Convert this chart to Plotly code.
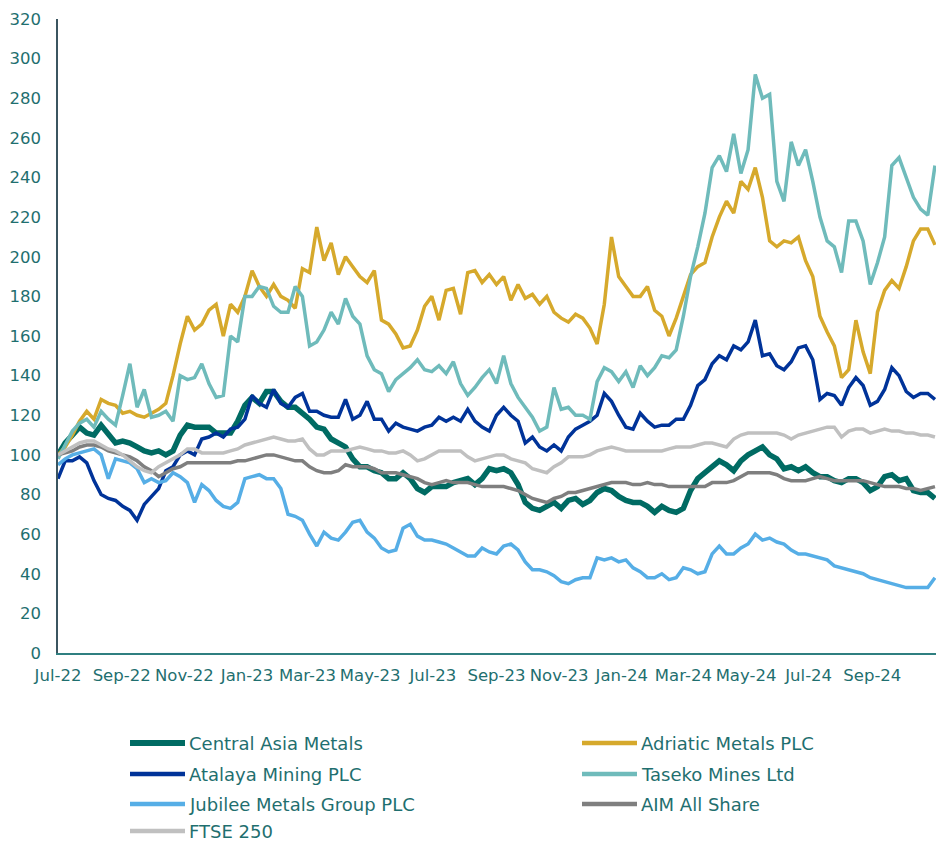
import datetime as dt
import plotly.graph_objects as go

# ---------------- data (weekly, rebased to 100 at Jul-22) ----------------
start = dt.date(2022, 7, 1)
n_weeks = 123
dates = [start + dt.timedelta(days=7 * k) for k in range(n_weeks)]

central_asia = [100, 106, 110, 114, 111, 110, 115, 110, 106, 107, 106, 104, 102, 101, 102, 100, 102, 110, 115, 114,
                114, 114, 111, 111, 111, 117, 125, 129, 126, 132, 132, 127, 124, 124, 121, 118, 114, 113, 108, 106,
                104, 98, 94, 94, 92, 91, 88, 88, 91, 88, 83, 81, 84, 84, 84, 86, 87, 88, 85, 88,
                93, 92, 93, 91, 85, 76, 73, 72, 74, 76, 73, 77, 78, 75, 77, 81, 83, 82, 79, 77,
                76, 76, 74, 71, 74, 72, 71, 73, 82, 88, 91, 94, 97, 95, 92, 97, 100, 102, 104, 100,
                98, 93, 94, 92, 94, 91, 89, 89, 87, 86, 88, 88, 86, 82, 84, 89, 90, 87, 88, 82,
                81, 81, 78]

adriatic = [100, 104, 110, 117, 122, 118, 128, 126, 125, 121, 122, 120, 119, 121, 123, 126, 140, 156, 170, 163,
            166, 173, 176, 160, 176, 172, 180, 193, 185, 180, 186, 180, 178, 174, 194, 192, 215, 198, 207, 191,
            200, 195, 190, 187, 193, 168, 166, 161, 154, 155, 163, 175, 180, 168, 183, 184, 171, 192, 193, 187,
            191, 186, 190, 178, 186, 179, 181, 176, 180, 172, 169, 167, 171, 169, 164, 156, 176, 210, 190, 185,
            180, 180, 185, 173, 170, 160, 169, 180, 191, 195, 197, 210, 220, 228, 222, 238, 234, 245, 230, 208,
            205, 208, 207, 210, 198, 190, 170, 162, 155, 139, 143, 168, 152, 141, 172, 183, 188, 184, 195, 208,
            214, 214, 206]

atalaya = [88, 97, 97, 99, 96, 87, 80, 78, 77, 74, 72, 67, 75, 79, 83, 92, 94, 100, 102, 100,
           108, 109, 111, 109, 113, 114, 118, 130, 126, 124, 133, 126, 124, 129, 131, 122, 122, 120, 119, 119,
           128, 118, 120, 127, 118, 118, 112, 116, 114, 113, 112, 114, 115, 119, 117, 119, 117, 123, 117, 114,
           112, 120, 124, 120, 117, 106, 109, 104, 102, 105, 102, 109, 113, 115, 117, 120, 131, 127, 120, 114,
           113, 121, 117, 114, 115, 115, 118, 118, 125, 135, 138, 146, 150, 148, 155, 153, 157, 168, 150, 151,
           145, 143, 147, 154, 155, 148, 128, 131, 130, 125, 134, 139, 135, 125, 127, 133, 144, 140, 132, 129,
           131, 131, 128]

taseko = [98, 105, 112, 116, 118, 114, 122, 118, 115, 130, 146, 124, 133, 119, 120, 122, 117, 140, 138, 139,
          146, 136, 129, 130, 160, 157, 180, 180, 185, 184, 175, 172, 172, 185, 180, 155, 157, 163, 172, 166,
          179, 170, 166, 150, 143, 141, 132, 138, 141, 144, 148, 143, 142, 145, 141, 147, 136, 130, 134, 139,
          143, 136, 150, 136, 129, 124, 119, 112, 114, 134, 123, 124, 120, 120, 118, 137, 144, 142, 137, 142,
          134, 145, 140, 144, 150, 149, 153, 170, 190, 205, 222, 245, 251, 243, 262, 242, 254, 292, 280, 282,
          238, 228, 258, 246, 254, 238, 220, 208, 205, 192, 218, 218, 208, 186, 197, 210, 246, 250, 240, 230,
          224, 221, 246]

jubilee = [95, 98, 100, 101, 102, 103, 100, 88, 98, 97, 96, 93, 86, 88, 86, 87, 91, 89, 86, 76,
           85, 82, 77, 74, 73, 76, 88, 89, 90, 88, 88, 83, 70, 69, 67, 60, 54, 61, 58, 57,
           61, 66, 67, 61, 58, 53, 51, 52, 63, 65, 59, 57, 57, 56, 55, 53, 51, 49, 49, 53,
           51, 50, 54, 55, 52, 46, 42, 42, 41, 39, 36, 35, 37, 38, 38, 48, 47, 48, 46, 47,
           43, 41, 38, 38, 40, 37, 38, 43, 42, 40, 41, 50, 54, 50, 50, 53, 55, 60, 57, 58,
           56, 55, 52, 50, 50, 49, 48, 47, 44, 43, 42, 41, 40, 38, 37, 36, 35, 34, 33, 33,
           33, 33, 38]

aim_all_share = [100, 101, 102, 104, 105, 105, 104, 102, 101, 100, 99, 97, 94, 92, 89, 91, 93, 94, 96, 96,
                 96, 96, 96, 96, 96, 97, 97, 98, 99, 100, 100, 99, 98, 97, 97, 94, 92, 91, 91, 92,
                 95, 94, 94, 94, 93, 91, 91, 91, 90, 89, 88, 86, 85, 86, 87, 86, 86, 86, 85, 84,
                 84, 84, 84, 83, 82, 80, 78, 77, 76, 78, 79, 81, 81, 82, 83, 84, 85, 86, 86, 86,
                 85, 85, 86, 85, 85, 84, 84, 84, 84, 84, 84, 86, 86, 86, 87, 89, 91, 91, 91, 91,
                 90, 88, 87, 87, 87, 88, 89, 88, 87, 87, 87, 87, 87, 86, 85, 84, 84, 84, 83, 83,
                 82, 83, 84]

ftse_250 = [100, 102, 104, 106, 107, 107, 105, 103, 102, 100, 97, 94, 92, 91, 94, 96, 98, 100, 103, 103,
            101, 101, 101, 101, 102, 103, 105, 106, 107, 108, 109, 108, 107, 107, 108, 103, 100, 100, 102, 102,
            102, 103, 104, 103, 102, 102, 101, 101, 102, 100, 97, 98, 100, 102, 102, 102, 102, 99, 97, 98,
            99, 100, 100, 98, 97, 96, 93, 92, 91, 94, 96, 99, 99, 99, 100, 102, 103, 104, 103, 102,
            102, 102, 102, 102, 102, 103, 104, 104, 104, 105, 106, 106, 105, 104, 108, 110, 111, 111, 111, 111,
            111, 110, 108, 110, 111, 112, 113, 114, 114, 109, 112, 113, 113, 111, 112, 113, 112, 112, 111, 111,
            110, 110, 109]

series_names = ["Central Asia Metals", "Adriatic Metals PLC", "Atalaya Mining PLC", "Taseko Mines Ltd",
                "Jubilee Metals Group PLC", "AIM All Share", "FTSE 250"]
series_values = [central_asia, adriatic, atalaya, taseko, jubilee, aim_all_share, ftse_250]
series_colors = ["#006B63", "#D6A92C", "#003399", "#6FBBBB", "#56AEE6", "#7F7F7F", "#C0C0C0"]
series_widths = [5.5, 3.5, 3.5, 3.5, 3.5, 3.5, 3.5]

tick_dates = [dt.date(2022, 7, 1), dt.date(2022, 9, 1), dt.date(2022, 11, 1), dt.date(2023, 1, 1),
              dt.date(2023, 3, 1), dt.date(2023, 5, 1), dt.date(2023, 7, 1), dt.date(2023, 9, 1),
              dt.date(2023, 11, 1), dt.date(2024, 1, 1), dt.date(2024, 3, 1), dt.date(2024, 5, 1),
              dt.date(2024, 7, 1), dt.date(2024, 9, 1)]
tick_labels = ["Jul-22", "Sep-22", "Nov-22", "Jan-23", "Mar-23", "May-23", "Jul-23", "Sep-23",
               "Nov-23", "Jan-24", "Mar-24", "May-24", "Jul-24", "Sep-24"]

# ---------------- figure ----------------
TEXT = "#1F6F6F"
FONT = "DejaVu Sans, Verdana, sans-serif"

fig = go.Figure()
for name, vals, col, w in zip(series_names, series_values, series_colors, series_widths):
    fig.add_trace(go.Scatter(x=dates, y=vals, name=name, mode="lines",
                             line=dict(color=col, width=w), showlegend=False))

W, H = 936, 844
ml, mr, mt, mb = 58, 0, 19, 191
pw, ph = W - ml - mr, H - mt - mb


def px(x):
    return (x - ml) / pw


def py(y):
    return (H - mb - y) / ph


# manual two-column legend (row-wise order, like the original)
col_x = [130, 582]
row_y = [743, 774, 804, 831]
shapes = []
annotations = []
for i, (name, col, w) in enumerate(zip(series_names, series_colors, series_widths)):
    r, c = divmod(i, 2)
    x0 = col_x[c]
    y0 = row_y[r]
    shapes.append(dict(type="line", xref="paper", yref="paper",
                       x0=px(x0), x1=px(x0 + 55), y0=py(y0), y1=py(y0),
                       line=dict(color=col, width=6 if i == 0 else 4.5)))
    annotations.append(dict(xref="paper", yref="paper", x=px(x0 + 57), y=py(y0),
                            xanchor="left", yanchor="middle", text=name, showarrow=False,
                            font=dict(family=FONT, size=18, color=TEXT)))

fig.update_layout(
    width=W, height=H,
    margin=dict(l=ml, r=mr, t=mt, b=mb),
    paper_bgcolor="white", plot_bgcolor="white",
    font=dict(family=FONT, color=TEXT, size=16.5),
    shapes=shapes, annotations=annotations,
    showlegend=False,
)
fig.update_xaxes(
    range=[dt.date(2022, 7, 1), dt.date(2024, 11, 2)],
    tickvals=tick_dates, ticktext=tick_labels,
    showgrid=False, zeroline=False,
    showline=True, linecolor="#2F7F80", linewidth=2,
    ticks="", ticklabelstandoff=6,
    tickfont=dict(family=FONT, size=16.5, color=TEXT),
)
fig.update_yaxes(
    range=[0, 320], dtick=20, tick0=0,
    showgrid=False, zeroline=False,
    showline=True, linecolor="#3B5560", linewidth=1.5,
    ticks="", ticklabelstandoff=12,
    tickfont=dict(family=FONT, size=16.5, color=TEXT),
)

fig.write_html("out.html", config={"displayModeBar": False},
               post_script="document.body.style.margin='0px';document.body.style.overflow='hidden';")
